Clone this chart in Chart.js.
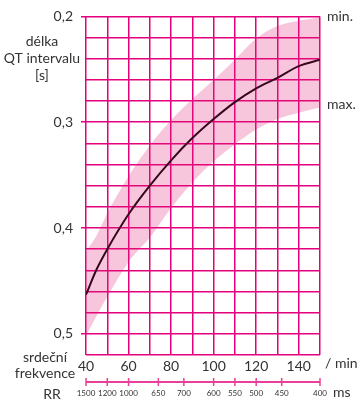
<!DOCTYPE html>
<html>
<head>
<meta charset="utf-8">
<script src="https://cdn.jsdelivr.net/npm/chart.js@4/dist/chart.umd.min.js"></script>
<style>
  html, body { margin: 0; padding: 0; background: #fff; }
  #wrap { width: 357px; height: 399px; }
</style>
</head>
<body>
<div id="wrap"><canvas id="qtChart"></canvas></div>
<script>
// heart rate (/min) and QT interval (s)
const heartRate = [40, 45, 50, 60, 70, 80, 90, 100, 110, 120, 130, 140, 150];
const qtMedian  = [0.463, 0.439, 0.420, 0.387, 0.360, 0.336, 0.315, 0.297, 0.281, 0.268, 0.258, 0.247, 0.241];
const qtMin     = [0.422, 0.407, 0.386, 0.351, 0.322, 0.298, 0.278, 0.260, 0.241, 0.221, 0.209, 0.204, 0.201];
const qtMax     = [0.502, 0.483, 0.465, 0.432, 0.409, 0.381, 0.357, 0.337, 0.321, 0.307, 0.297, 0.291, 0.286];

// RR scale under the heart-rate axis: labels (ms) and where they sit (/min)
const rrLabels = ['1500', '1200', '1000', '650', '700', '600', '550', '500', '450', '400'];
const rrPos    = [40, 50, 60, 74, 86, 100, 110, 120, 132, 150];

const magenta = '#e5007d';
const textColor = '#333333';
const fontFamily = 'Lato, "Noto Sans", sans-serif';

const toXY = vals => heartRate.map((x, i) => ({ x: x, y: vals[i] }));

// extra texts, the RR line and the min./max. labels
const annotations = {
    id: 'annotations',
    afterDraw(chart) {
        const ctx = chart.ctx;
        const xs = chart.scales.x;
        const ys = chart.scales.y;
        ctx.save();
        ctx.fillStyle = textColor;
        ctx.textBaseline = 'middle';

        ctx.font = '14px ' + fontFamily;
        ctx.textAlign = 'center';
        ctx.fillText('délka', 42, 41);
        ctx.fillText('QT intervalu', 42, 58);
        ctx.fillText('[s]', 42, 75);
        ctx.fillText('srdeční', 45, 357);
        ctx.fillText('frekvence', 45, 373);
        ctx.fillText('RR', 52, 394);

        ctx.textAlign = 'left';
        ctx.font = '14px ' + fontFamily;
        ctx.fillText('/ min', xs.right + 5, 363);
        ctx.fillText('ms', xs.right + 13, 392);
        const last = heartRate.length - 1;
        ctx.fillText('min.', xs.right + 7, ys.getPixelForValue(qtMin[last]) - 1);
        ctx.fillText('max.', xs.right + 7, ys.getPixelForValue(qtMax[last]) - 3);

        // RR line with ticks
        const lineY = 382;
        ctx.strokeStyle = '#ea3f97';
        ctx.lineWidth = 2;
        ctx.beginPath();
        ctx.moveTo(xs.getPixelForValue(rrPos[0]), lineY);
        ctx.lineTo(xs.getPixelForValue(rrPos[rrPos.length - 1]), lineY);
        ctx.stroke();
        ctx.lineWidth = 1.5;
        rrPos.forEach(v => {
            const px = xs.getPixelForValue(v);
            ctx.beginPath();
            ctx.moveTo(px, lineY - 4);
            ctx.lineTo(px, lineY + 4);
            ctx.stroke();
        });
        ctx.restore();
    }
};

const ctx = document.getElementById('qtChart').getContext('2d');
const qtChart = new Chart(ctx, {
    type: 'line',
    data: {
        datasets: [
            {
                label: 'min.',
                data: toXY(qtMin),
                borderWidth: 0,
                pointRadius: 0,
                backgroundColor: 'rgba(223, 27, 115, 0.25)',
                fill: '+1',
                cubicInterpolationMode: 'monotone'
            },
            {
                label: 'max.',
                data: toXY(qtMax),
                borderWidth: 0,
                pointRadius: 0,
                fill: false,
                cubicInterpolationMode: 'monotone'
            },
            {
                label: 'QT',
                data: toXY(qtMedian),
                borderColor: '#000000',
                borderWidth: 2,
                pointRadius: 0,
                fill: false,
                cubicInterpolationMode: 'monotone'
            }
        ]
    },
    options: {
        responsive: true,
        maintainAspectRatio: false,
        animation: false,
        layout: { padding: { left: 0, right: 37, top: 15, bottom: 0 } },
        plugins: {
            legend: { display: false },
            tooltip: { enabled: false }
        },
        scales: {
            x: {
                type: 'linear',
                position: 'bottom',
                min: 40,
                max: 150,
                afterFit: scale => { scale.height = 20; },
                grid: { color: magenta, lineWidth: 1.5, drawTicks: false },
                border: { display: false },
                ticks: {
                    stepSize: 10,
                    padding: 3,
                    color: textColor,
                    font: { family: fontFamily, size: 14 },
                    maxRotation: 0,
                    autoSkip: false,
                    callback: v => (v % 20 === 0 && v < 150) ? String(v) : ''
                }
            },
            x2: {
                type: 'linear',
                position: 'bottom',
                min: 40,
                max: 150,
                afterFit: scale => { scale.height = 24; },
                afterBuildTicks: scale => { scale.ticks = rrPos.map(v => ({ value: v })); },
                grid: { display: false, drawTicks: false },
                border: { display: false },
                ticks: {
                    padding: 14,
                    color: textColor,
                    font: { family: fontFamily, size: 8 },
                    maxRotation: 0,
                    autoSkip: false,
                    callback: (v, i) => rrLabels[i]
                }
            },
            y: {
                type: 'linear',
                reverse: true,
                min: 0.2,
                max: 0.52,
                afterFit: scale => { scale.width = 86; },
                grid: {
                    color: magenta,
                    lineWidth: 1.5,
                    tickLength: 5,
                    tickColor: c => (Math.round(c.tick.value * 100) % 10 === 0 && c.tick.value < 0.51) ? magenta : 'rgba(0,0,0,0)'
                },
                border: { display: false },
                ticks: {
                    stepSize: 0.02,
                    padding: 8,
                    color: textColor,
                    font: { family: fontFamily, size: 14 },
                    autoSkip: false,
                    callback: v => {
                        const h = Math.round(v * 100);
                        return (h % 10 === 0 && h <= 50) ? (h / 100).toFixed(1).replace('.', ',') : '';
                    }
                }
            }
        }
    },
    plugins: [annotations]
});
</script>
</body>
</html>
